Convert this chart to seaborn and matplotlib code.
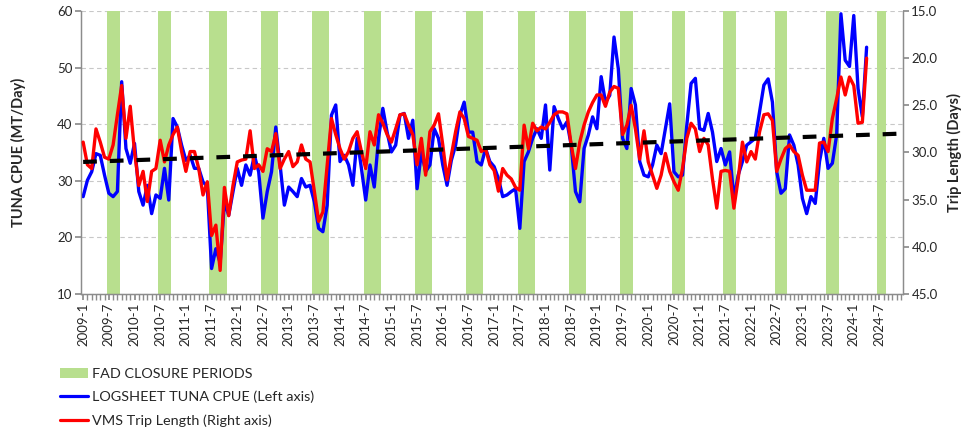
import numpy as np
import pandas as pd
import matplotlib
matplotlib.use("Agg")
import matplotlib.pyplot as plt
import seaborn as sns
from matplotlib.patches import Patch
from matplotlib.lines import Line2D
from matplotlib.ticker import FormatStrFormatter

years = list(range(2009, 2025))
months = [f"{y}-{m}" for y in years for m in range(1, 13)]

# FAD closure length in months (closure starts in July each year)
closure_len = [3, 3, 4, 4, 4, 4, 4, 4, 4, 4, 3, 3, 3, 3, 3, 2]

# logsheet tuna CPUE (MT/day), monthly from 2009-1
cpue = [
    27.2, 30.1, 31.6, 34.8, 34.5, 31.0, 27.8, 27.2, 28.1, 47.5, 35.7, 33.1,
    36.6, 28.1, 25.7, 29.2, 24.2, 27.5, 26.9, 32.2, 26.6, 41.0, 39.5, 36.3,
    33.6, 34.5, 32.2, 32.2, 29.8, 29.0, 14.5, 18.0, 15.5, 26.3, 23.9, 28.1,
    32.2, 29.2, 32.8, 31.0, 34.5, 31.6, 23.4, 28.1, 31.6, 39.5, 32.8, 25.7,
    28.9, 28.1, 27.2, 30.4, 28.9, 29.2, 26.3, 21.6, 21.0, 25.7, 41.6, 43.4,
    33.4, 34.5, 32.8, 29.2, 37.5, 32.2, 26.6, 32.8, 28.9, 37.5, 42.8, 38.6,
    35.1, 36.3, 41.6, 41.9, 37.5, 40.7, 28.6, 35.1, 31.6, 32.8, 39.2, 37.5,
    32.8, 29.2, 33.6, 36.3, 41.6, 43.9, 38.6, 38.6, 33.4, 32.8, 35.7, 33.4,
    32.5, 30.4, 27.2, 27.5, 28.1, 28.6, 21.6, 33.4, 35.1, 37.5, 39.2, 37.5,
    43.4, 31.9, 43.1, 41.0, 39.2, 40.4, 36.3, 28.1, 26.3, 35.7, 38.1, 41.3,
    39.2, 48.4, 43.9, 45.1, 55.4, 49.8, 37.5, 35.7, 46.3, 43.4, 33.4, 31.0,
    30.7, 32.8, 36.3, 34.8, 39.2, 43.6, 31.6, 30.7, 31.0, 39.8, 47.2, 48.1,
    39.2, 38.9, 41.9, 38.6, 33.4, 35.7, 32.8, 35.1, 26.9, 31.0, 33.4, 36.3,
    36.9, 37.5, 42.2, 46.9, 48.0, 43.9, 31.6, 27.8, 28.6, 38.1, 36.3, 32.8,
    26.9, 24.2, 27.2, 26.0, 33.4, 37.5, 32.2, 33.1, 38.1, 59.5, 51.3, 50.2,
    59.2, 46.3, 41.3, 53.6,
]

# VMS trip length (days), monthly from 2009-1
trip_days = [
    28.9, 31.3, 31.7, 27.5, 28.9, 30.5, 30.7, 29.2, 26.0, 22.9, 28.5, 25.1,
    29.9, 33.5, 32.0, 35.2, 32.0, 31.7, 28.7, 31.0, 29.2, 28.1, 27.3, 29.9,
    32.0, 29.9, 29.9, 31.7, 34.5, 33.1, 38.8, 37.7, 42.5, 33.7, 36.7, 33.5,
    31.0, 30.8, 30.7, 27.7, 31.7, 31.3, 32.0, 29.6, 29.9, 28.0, 31.7, 30.7,
    29.9, 31.5, 31.0, 29.2, 30.7, 31.0, 34.1, 37.3, 36.3, 31.3, 26.4, 28.1,
    29.6, 30.7, 29.9, 28.5, 27.8, 29.9, 31.7, 27.8, 29.2, 26.0, 26.9, 28.1,
    28.9, 27.5, 26.0, 25.9, 27.1, 28.1, 31.3, 28.5, 32.4, 27.8, 27.1, 25.9,
    29.2, 32.9, 30.3, 27.8, 25.7, 26.4, 28.3, 28.5, 28.7, 29.9, 29.6, 31.3,
    31.9, 34.1, 31.7, 32.4, 32.8, 33.7, 34.0, 27.1, 29.6, 26.9, 27.7, 27.3,
    27.5, 26.8, 26.0, 25.7, 25.7, 25.9, 29.2, 31.7, 28.9, 27.1, 25.7, 24.7,
    23.9, 23.9, 25.1, 23.6, 23.0, 23.2, 28.1, 27.1, 25.0, 27.5, 30.7, 27.7,
    31.0, 32.4, 33.8, 32.4, 30.1, 32.0, 33.1, 34.0, 31.7, 28.5, 26.9, 27.5,
    29.9, 28.5, 29.2, 32.8, 35.9, 32.0, 31.9, 32.0, 35.9, 32.8, 28.9, 31.0,
    29.9, 30.7, 27.8, 26.0, 25.9, 26.6, 32.0, 30.7, 29.6, 29.2, 29.9, 30.3,
    32.4, 34.0, 34.0, 34.0, 29.0, 28.9, 29.9, 26.4, 24.3, 22.0, 23.9, 22.0,
    22.9, 26.9, 26.8, 20.0,
]

# linear trend of trip length, first and last month of the axis
trend_days = [31.0, 28.0]

GREEN = "#b8df8e"
BLUE = "#0000ff"
RED = "#ff0000"
GREY = "#8c8c8c"

sns.set_theme(style="white")
plt.rcParams["font.family"] = ["Lato", "DejaVu Sans"]

closure = []
for n in closure_len:
    closure += [0] * 6 + [60] * n + [0] * (6 - n)

df_bar = pd.DataFrame({"pos": range(len(months)), "closure": closure})
df_line = pd.DataFrame({"pos": range(len(cpue)), "cpue": cpue, "trip": trip_days})
df_trend = pd.DataFrame({"pos": [0, len(months) - 1], "days": trend_days})

fig = plt.figure(figsize=(9.64, 4.36), dpi=100)
ax = fig.add_axes([81 / 964, 1 - 294 / 436, (903 - 81) / 964, (294 - 11) / 436])

sns.barplot(data=df_bar, x="pos", y="closure", ax=ax, color=GREEN,
            width=1, linewidth=0, saturation=1, errorbar=None, zorder=1)
sns.lineplot(data=df_line, x="pos", y="cpue", ax=ax, color=BLUE,
             lw=2.4, zorder=3, solid_joinstyle="round")

ax.set_xlim(-0.5, len(months) - 0.5)
ax.set_ylim(10, 60)
ax.set_yticks(range(10, 61, 10))
ax.yaxis.grid(True, ls=(0, (4, 3)), color="#c8c8c8", lw=0.8)
ax.xaxis.grid(False)
ax.set_xticks(range(0, len(months), 6))
ax.set_xticklabels(months[::6], rotation=90, fontsize=9.5)
ax.set_xticks(np.arange(len(months)), minor=True)
ax.tick_params(axis="x", which="both", length=4, color=GREY, bottom=True, pad=2)
ax.tick_params(axis="y", length=4, color=GREY, left=True, labelsize=9.5, pad=2)
ax.set_xlabel("")
ax.set_ylabel("TUNA CPUE (MT/Day)", fontweight="bold", fontsize=10.5)
ax.yaxis.set_label_coords(-0.067, 0.5)

ax2 = ax.twinx()
sns.lineplot(data=df_line, x="pos", y="trip", ax=ax2, color=RED,
             lw=2.4, zorder=3, solid_joinstyle="round")
sns.lineplot(data=df_trend, x="pos", y="days", ax=ax2, color="black",
             lw=3, linestyle=(0, (3.3, 3.1)), zorder=4)
ax2.set_ylim(45, 15)
ax2.set_yticks(range(15, 46, 5))
ax2.yaxis.set_major_formatter(FormatStrFormatter("%.1f"))
ax2.tick_params(axis="y", length=4, color=GREY, right=True, labelsize=9.5, pad=2)
ax2.grid(False)
ax2.set_ylabel("Trip Length (Days)", fontweight="bold", fontsize=10.5)
ax2.yaxis.set_label_coords(1.054, 0.5)

for a in (ax, ax2):
    a.spines["top"].set_visible(False)
    for s in ("left", "right", "bottom"):
        a.spines[s].set_color(GREY)
        a.spines[s].set_linewidth(0.9)

handles = [
    Patch(facecolor=GREEN, edgecolor="none"),
    Line2D([], [], color=BLUE, lw=2.3),
    Line2D([], [], color=RED, lw=2.3),
]
labels = ["FAD CLOSURE PERIODS", "LOGSHEET TUNA CPUE (Left axis)",
          "VMS Trip Length (Right axis)"]
fig.legend(handles, labels, loc="upper left", bbox_to_anchor=(60 / 964, 1 - 368 / 436),
           frameon=False, fontsize=10.4, handlelength=1.95, handletextpad=0.3,
           labelspacing=0.75, borderpad=0, borderaxespad=0)

fig.savefig("out.png", dpi=100)
